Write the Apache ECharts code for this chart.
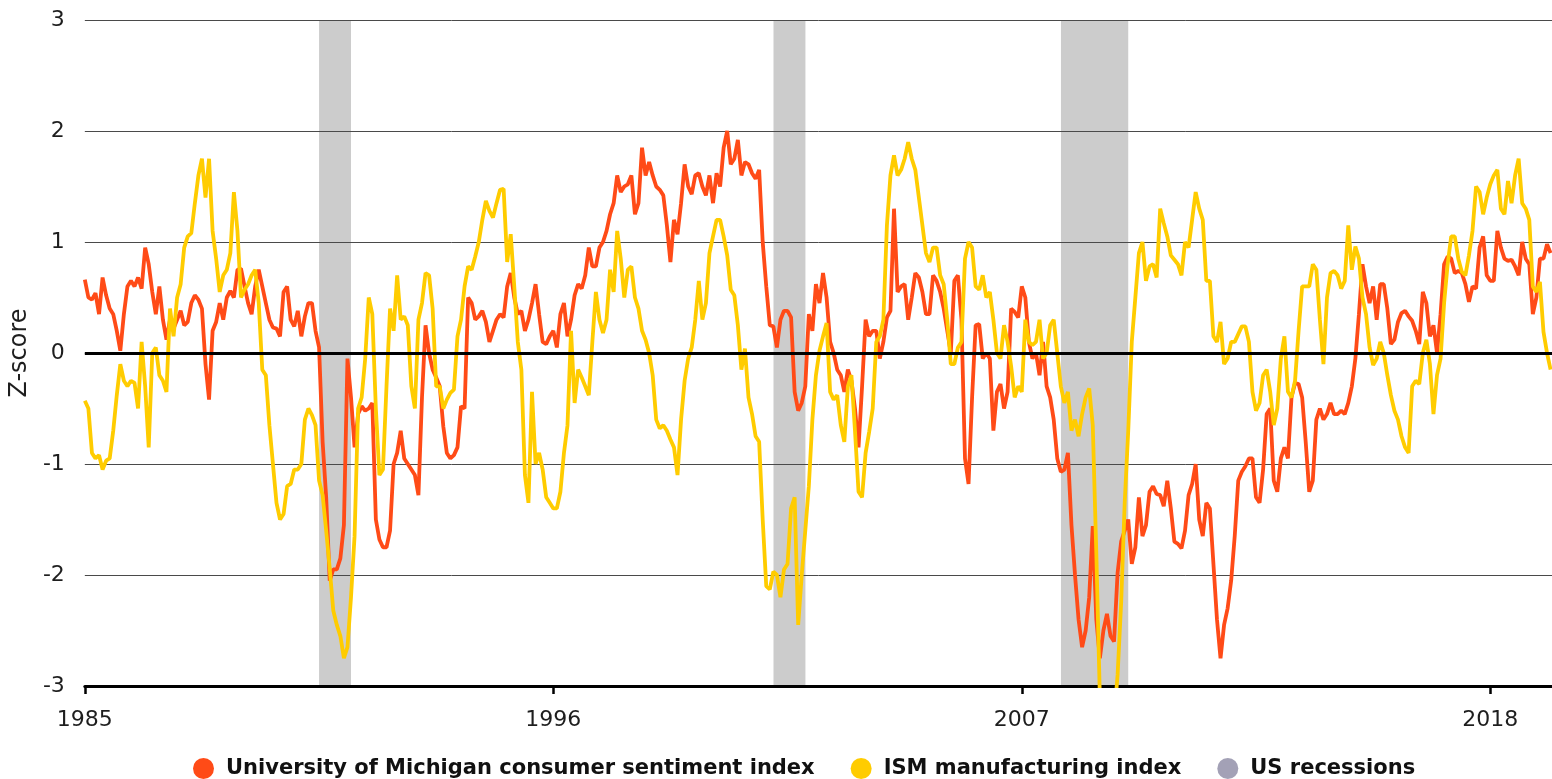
<!DOCTYPE html>
<html>
<head>
<meta charset="utf-8">
<title>Consumer sentiment vs ISM manufacturing</title>
<script src="https://cdn.jsdelivr.net/npm/echarts@6/dist/echarts.min.js"></script>
<style>
  html, body { margin: 0; padding: 0; background: #fff; }
  #chart { width: 1552px; height: 779px; }
</style>
</head>
<body>
<div id="chart"></div>
<script>
// monthly z-scores, first value is Jan 1985
const startYear = 1985;

const umich = [
  0.66, 0.5, 0.48, 0.54, 0.35, 0.68, 0.52, 0.4, 0.35, 0.2, 0.02, 0.35,
  0.6, 0.65, 0.6, 0.68, 0.58, 0.95, 0.8, 0.55, 0.35, 0.6, 0.3, 0.12,
  0.3, 0.22, 0.3, 0.38, 0.25, 0.28, 0.45, 0.52, 0.48, 0.4, -0.1, -0.42,
  0.2, 0.28, 0.45, 0.3, 0.5, 0.56, 0.5, 0.75, 0.76, 0.6, 0.45, 0.35,
  0.6, 0.75, 0.6, 0.45, 0.3, 0.23, 0.22, 0.15, 0.55, 0.6, 0.3, 0.24,
  0.38, 0.15, 0.33, 0.45, 0.45, 0.2, 0.05, -0.8, -1.3, -2.05, -1.95, -1.95,
  -1.85, -1.55, -0.05, -0.4, -0.85, -0.55, -0.48, -0.52, -0.5, -0.45, -1.5, -1.68,
  -1.75, -1.75, -1.6, -1.0, -0.9, -0.7, -0.95, -1.0, -1.05, -1.1, -1.28, -0.4,
  0.25, 0.0, -0.15, -0.22, -0.3, -0.66, -0.9, -0.95, -0.92, -0.85, -0.48, -0.5,
  0.5, 0.45, 0.3, 0.33, 0.38, 0.28, 0.1, 0.2, 0.3, 0.35, 0.32, 0.6,
  0.72, 0.5, 0.35, 0.38, 0.2, 0.3, 0.45, 0.62, 0.35, 0.1, 0.08, 0.15,
  0.2, 0.05, 0.35, 0.45, 0.15, 0.3, 0.52, 0.62, 0.58, 0.7, 0.95, 0.78,
  0.78, 0.95, 1.0, 1.1, 1.25, 1.35, 1.6, 1.45, 1.5, 1.52, 1.6, 1.25,
  1.35, 1.85, 1.6, 1.72, 1.6, 1.5, 1.47, 1.42, 1.15, 0.82, 1.2, 1.07,
  1.35, 1.7, 1.5, 1.43, 1.6, 1.62, 1.5, 1.42, 1.6, 1.35, 1.62, 1.5,
  1.85, 2.0, 1.7, 1.75, 1.92, 1.6, 1.72, 1.7, 1.62, 1.57, 1.65, 1.0,
  0.6, 0.25, 0.24, 0.05, 0.3, 0.38, 0.38, 0.32, -0.35, -0.52, -0.45, -0.3,
  0.35, 0.2, 0.62, 0.45, 0.72, 0.5, 0.1, 0.0, -0.15, -0.2, -0.35, -0.15,
  -0.25, -0.5, -0.85, -0.3, 0.3, 0.15, 0.2, 0.2, -0.05, 0.1, 0.32, 0.38,
  1.3, 0.55, 0.6, 0.62, 0.3, 0.5, 0.72, 0.68, 0.55, 0.35, 0.35, 0.7,
  0.65, 0.55, 0.4, 0.2, 0.0, 0.65, 0.7, 0.3, -0.95, -1.18, -0.4, 0.25,
  0.26, -0.05, 0.0, -0.05, -0.7, -0.35, -0.28, -0.5, -0.35, 0.4, 0.37, 0.32,
  0.6, 0.5, 0.1, -0.05, 0.0, -0.2, 0.1, -0.3, -0.4, -0.6, -0.95, -1.07,
  -1.05, -0.9, -1.55, -2.0, -2.4, -2.65, -2.5, -2.2, -1.56, -2.4, -2.75, -2.5,
  -2.35, -2.55, -2.6, -1.98, -1.7, -1.6, -1.5, -1.9, -1.75, -1.3, -1.65, -1.55,
  -1.25, -1.2, -1.27, -1.28, -1.38, -1.15, -1.4, -1.7, -1.72, -1.76, -1.6, -1.28,
  -1.18, -1.0, -1.5, -1.65, -1.35, -1.4, -1.9, -2.4, -2.75, -2.45, -2.3, -2.05,
  -1.65, -1.15, -1.07, -1.02, -0.95, -0.95, -1.3, -1.35, -1.05, -0.55, -0.5, -1.15,
  -1.25, -0.95, -0.85, -0.95, -0.4, -0.27, -0.28, -0.4, -0.8, -1.25, -1.15, -0.6,
  -0.5, -0.6, -0.55, -0.45, -0.55, -0.55, -0.52, -0.55, -0.45, -0.3, -0.05, 0.35,
  0.8, 0.6, 0.45, 0.6, 0.3, 0.62, 0.62, 0.4, 0.08, 0.12, 0.28, 0.36,
  0.38, 0.33, 0.29, 0.2, 0.08, 0.55, 0.45, 0.15, 0.25, 0.0, 0.35, 0.8,
  0.87, 0.85, 0.72, 0.74, 0.72, 0.62, 0.46, 0.6, 0.58, 0.95, 1.05, 0.7,
  0.65, 0.65, 1.1, 0.95, 0.85, 0.83, 0.84, 0.78, 0.7, 1.0, 0.85, 0.8,
  0.35, 0.5, 0.85, 0.85, 0.98, 0.9
];

const ism = [
  -0.43, -0.5, -0.9, -0.95, -0.92, -1.05, -0.97, -0.95, -0.7, -0.38, -0.1, -0.25,
  -0.3, -0.25, -0.27, -0.5, 0.1, -0.3, -0.85, 0.0, 0.05, -0.2, -0.25, -0.35,
  0.4, 0.15, 0.5, 0.62, 0.95, 1.05, 1.08, 1.35, 1.6, 1.75, 1.4, 1.75,
  1.1, 0.85, 0.55, 0.7, 0.75, 0.9, 1.45, 1.1, 0.5, 0.57, 0.62, 0.7,
  0.75, 0.45, -0.15, -0.2, -0.65, -1.0, -1.35, -1.5, -1.45, -1.2, -1.18, -1.05,
  -1.05, -1.0, -0.6, -0.5, -0.56, -0.65, -1.15, -1.28, -1.6, -1.94, -2.32, -2.45,
  -2.55, -2.75, -2.65, -2.2, -1.65, -0.5, -0.4, -0.05, 0.5, 0.35, -0.5, -1.1,
  -1.05, -0.3, 0.4, 0.2, 0.7, 0.3, 0.33, 0.25, -0.3, -0.5, 0.3, 0.45,
  0.72, 0.7, 0.4, -0.3, -0.3, -0.5, -0.42, -0.36, -0.33, 0.15, 0.3, 0.6,
  0.78, 0.75, 0.87, 1.0, 1.2, 1.37, 1.28, 1.22, 1.35, 1.47, 1.48, 0.82,
  1.07, 0.6, 0.1, -0.15, -1.1, -1.35, -0.35, -1.0, -0.9, -1.05, -1.3, -1.35,
  -1.4, -1.4, -1.25, -0.9, -0.65, 0.2, -0.45, -0.15, -0.22, -0.3, -0.38, 0.1,
  0.55, 0.3, 0.18, 0.3, 0.75, 0.55, 1.1, 0.85, 0.5, 0.75, 0.78, 0.5,
  0.4, 0.2, 0.12, 0.0, -0.2, -0.6, -0.68, -0.65, -0.7, -0.78, -0.85, -1.1,
  -0.6, -0.25, -0.05, 0.05, 0.3, 0.65, 0.3, 0.45, 0.9, 1.05, 1.2, 1.2,
  1.05, 0.88, 0.57, 0.52, 0.25, -0.15, 0.04, -0.4, -0.55, -0.75, -0.8, -1.5,
  -2.1, -2.13, -1.97, -2.0, -2.2, -1.95, -1.9, -1.4, -1.3, -2.45, -2.0, -1.6,
  -1.2, -0.6, -0.2, 0.02, 0.15, 0.27, -0.35, -0.42, -0.38, -0.65, -0.8, -0.3,
  -0.2, -0.7, -1.25, -1.3, -0.9, -0.71, -0.5, 0.1, 0.15, 0.3, 1.15, 1.6,
  1.78, 1.6, 1.65, 1.75, 1.9, 1.75, 1.65, 1.4, 1.15, 0.9, 0.82, 0.95,
  0.95, 0.7, 0.62, 0.3, -0.1, -0.1, 0.05, 0.1, 0.85, 1.0, 0.95, 0.6,
  0.57, 0.7, 0.5, 0.55, 0.3, 0.0, -0.05, 0.25, 0.1, -0.12, -0.4, -0.3,
  -0.35, 0.3, 0.1, 0.07, 0.1, 0.3, -0.05, 0.0, 0.25, 0.3, 0.0, -0.3,
  -0.45, -0.35, -0.7, -0.6, -0.75, -0.55, -0.4, -0.32, -0.65, -1.8, -3.1, -3.5,
  -3.6, -3.5, -3.3, -2.9, -2.25, -1.35, -0.7, 0.1, 0.5, 0.9, 1.0, 0.65,
  0.78, 0.8, 0.68, 1.3, 1.17, 1.05, 0.88, 0.84, 0.8, 0.7, 1.0, 0.95,
  1.2, 1.45, 1.3, 1.2, 0.65, 0.65, 0.15, 0.1, 0.28, -0.1, -0.05, 0.1,
  0.1, 0.17, 0.24, 0.24, 0.1, -0.35, -0.52, -0.45, -0.2, -0.15, -0.35, -0.65,
  -0.5, -0.05, 0.15, -0.35, -0.4, -0.25, 0.2, 0.6, 0.6, 0.6, 0.8, 0.75,
  0.3, -0.1, 0.5, 0.72, 0.74, 0.7, 0.58, 0.65, 1.15, 0.75, 0.96, 0.85,
  0.5, 0.35, 0.05, -0.11, -0.05, 0.1, 0.0, -0.2, -0.38, -0.52, -0.6, -0.75,
  -0.85, -0.9, -0.3, -0.25, -0.28, 0.0, 0.12, -0.1, -0.55, -0.2, -0.05, 0.45,
  0.8, 1.05, 1.05, 0.85, 0.73, 0.7, 0.88, 1.1, 1.5, 1.45, 1.25, 1.4,
  1.52, 1.6, 1.65, 1.3, 1.25, 1.55, 1.35, 1.6, 1.75, 1.35, 1.3, 1.2,
  0.6, 0.55, 0.64, 0.19, 0.0, -0.15
];

// start and end of each US recession, in decimal years
const recessions = [[1990.5, 1991.25], [2001.17, 2001.92], [2007.92, 2009.5]];
const yearTicks = [1985, 1996, 2007, 2018];
const names = [
  'University of Michigan consumer sentiment index',
  'ISM manufacturing index',
  'US recessions'
];
const colors = ['#ff4b17', '#ffcc00', '#a3a1b6'];

const toPairs = (vals) => vals.map((v, i) => [startYear + i / 12, v]);

const chart = echarts.init(document.getElementById('chart'));

const option = {
  animation: false,
  textStyle: { fontFamily: 'DejaVu Sans' },
  grid: { left: 83, right: 0, top: 20, bottom: 93 },
  legend: {
    data: names,
    left: 188,
    top: 753,
    icon: 'circle',
    itemWidth: 21,
    itemHeight: 21,
    itemGap: 36,
    textStyle: { fontSize: 21, fontWeight: 'bold', color: '#111', padding: [0, 0, 0, 7] }
  },
  xAxis: {
    type: 'value',
    min: 1985,
    max: 2019.45,
    z: 2,
    axisLine: { onZero: false, lineStyle: { color: '#000', width: 3 } },
    axisTick: { show: true, customValues: yearTicks, length: 8, lineStyle: { color: '#000', width: 2.5 } },
    axisLabel: { customValues: yearTicks, fontSize: 22, color: '#1e1e1e', margin: 23, formatter: (v) => String(v) },
    splitLine: { show: false }
  },
  yAxis: {
    type: 'value',
    min: -3,
    max: 3,
    interval: 1,
    z: 2,
    name: 'Z-score',
    nameLocation: 'middle',
    nameGap: 48,
    nameTextStyle: { fontSize: 24, color: '#1e1e1e' },
    axisLine: { show: false },
    axisTick: { show: false },
    axisLabel: { fontSize: 22, color: '#1e1e1e', margin: 20 },
    splitLine: { lineStyle: { color: '#4a4a4a', width: 1 } }
  },
  series: [
    {
      name: names[0],
      type: 'line',
      data: toPairs(umich),
      symbol: 'none',
      z: 3,
      lineStyle: { width: 3.8, color: colors[0] },
      itemStyle: { color: colors[0] }
    },
    {
      name: names[1],
      type: 'line',
      data: toPairs(ism),
      symbol: 'none',
      z: 4,
      lineStyle: { width: 3.8, color: colors[1] },
      itemStyle: { color: colors[1] },
      markLine: {
        silent: true,
        symbol: 'none',
        z: 6,
        label: { show: false },
        lineStyle: { color: '#000', width: 3, type: 'solid' },
        data: [{ yAxis: 0 }]
      }
    },
    {
      name: names[2],
      type: 'line',
      data: [],
      itemStyle: { color: colors[2] },
      markArea: {
        silent: true,
        z: 1,
        itemStyle: { color: '#cccccc' },
        data: recessions.map((r) => [{ xAxis: r[0] }, { xAxis: r[1] }])
      }
    }
  ]
};

chart.setOption(option);
window.addEventListener('resize', () => chart.resize());
</script>
</body>
</html>
